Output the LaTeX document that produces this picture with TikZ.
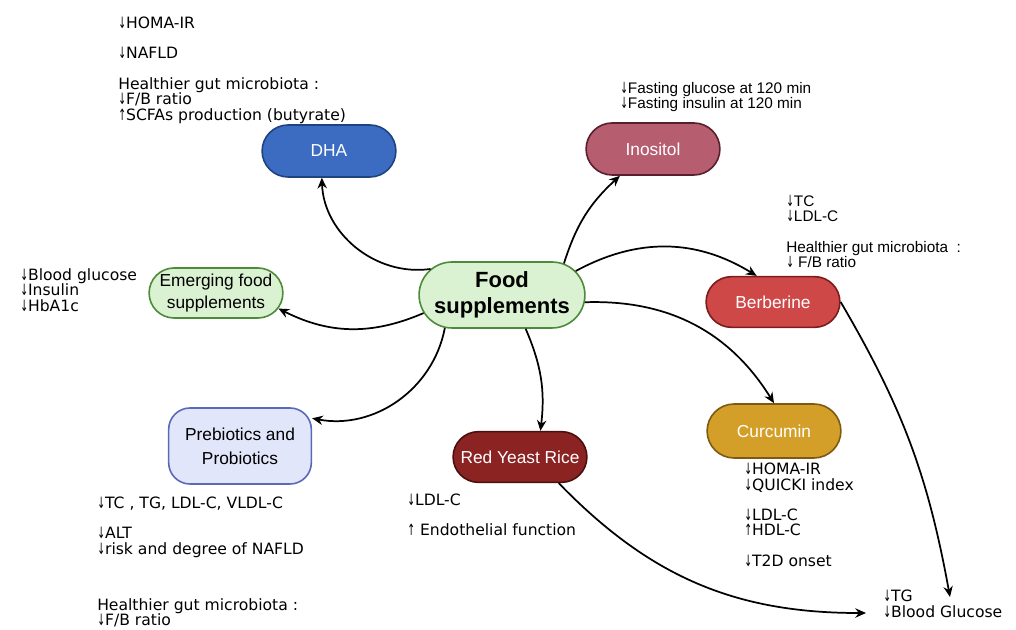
\documentclass[tikz,border=0pt]{standalone}
\usepackage{fontspec}
\setmainfont{DejaVu Sans}
\newfontfamily\labelfont{Liberation Sans}
\newfontfamily\arrowfont{DejaVu Sans}
\usetikzlibrary{arrows.meta, positioning, shapes.misc}
\definecolor{dhablue}{HTML}{3B6CC2}
\definecolor{dhaline}{HTML}{1E437E}
\definecolor{inorose}{HTML}{B65E70}
\definecolor{inoline}{HTML}{5A1F2E}
\definecolor{berred}{HTML}{CF4848}
\definecolor{berline}{HTML}{7C1C1C}
\definecolor{ryrred}{HTML}{8C2323}
\definecolor{ryrline}{HTML}{4A0F0F}
\definecolor{curgold}{HTML}{D49F28}
\definecolor{curline}{HTML}{7D5A12}
\definecolor{hubgreen}{HTML}{DAF1D2}
\definecolor{hubline}{HTML}{4C8B3A}
\definecolor{probfill}{HTML}{E2E6FA}
\definecolor{probline}{HTML}{5A6AB8}
\newcommand{\decr}{\scalebox{0.6}[1]{\arrowfont ↓}}
\newcommand{\incr}{\scalebox{0.6}[1]{\arrowfont ↑}}

\begin{document}
\begin{tikzpicture}[x=0.75pt, y=0.75pt]
    \tikzstyle{pill} = [rounded rectangle, minimum width=107pt, minimum height=39pt, align=center, line width=1.2pt, text=white, font=\labelfont\fontsize{13}{16.5}\selectfont]
    \tikzstyle{hub} = [rounded rectangle, minimum width=131pt, minimum height=49.5pt, align=center, draw=hubline, fill=hubgreen, line width=1.2pt, font=\labelfont\bfseries\fontsize{16.5}{19.5}\selectfont]
    \tikzstyle{note} = [inner sep=0pt, anchor=north west, align=left, font=\fontsize{11.7}{11.6}\selectfont]
    \tikzstyle{arrow} = [line width=1.3pt, -{Stealth[length=8pt, width=7pt]}]
    \useasboundingbox (0,0) rectangle (1016,630);

    \node[hub] (hub) at (502,335) {Food\\supplements};
    \node[pill, draw=dhaline, fill=dhablue] (dha) at (329,479) {DHA};
    \node[pill, draw=inoline, fill=inorose] (inositol) at (653,481) {Inositol};
    \node[pill, draw=hubline, fill=hubgreen, text=black, minimum height=37.5pt] (emerging) at (216,337) {Emerging food\\supplements};
    \node[pill, draw=berline, fill=berred, minimum height=38pt] (berberine) at (773,328) {Berberine};
    \node[pill, rectangle, rounded corners=16pt, minimum height=57pt, draw=probline, fill=probfill, text=black, font=\labelfont\fontsize{13}{18}\selectfont] (prebio) at (240,184) {Prebiotics and\\Probiotics};
    \node[pill, draw=ryrline, fill=ryrred, minimum height=38pt] (redyeast) at (520,173) {Red Yeast Rice};
    \node[pill, draw=curline, fill=curgold, minimum height=40.5pt] (curcumin) at (774,199) {Curcumin};

    % effects listed next to each supplement
    \node[note] (dhanote) at (118,613) {\decr HOMA-IR\\[11pt]\decr NAFLD\\[11pt]Healthier gut microbiota :\\\decr F/B ratio\\\incr SCFAs production (butyrate)};
    \node[note, font=\labelfont\fontsize{11.5}{11.3}\selectfont] (inonote) at (620,548) {\decr Fasting glucose at 120 min\\\decr Fasting insulin at 120 min};
    \node[note] (emergingnote) at (20,362) {\decr Blood glucose\\\decr Insulin\\\decr HbA1c};
    \node[note, font=\labelfont\fontsize{11.5}{11.3}\selectfont] (bernote) at (786,435) {\decr TC\\\decr LDL-C\\[12pt]Healthier gut microbiota \ :\\\decr{} F/B ratio};
    \node[note] (prebionote) at (97,133) {\decr TC , TG, LDL-C, VLDL-C\\[11pt]\decr ALT\\\decr risk and degree of NAFLD};
    \node[note] (gutnote) at (97,32) {Healthier gut microbiota :\\\decr F/B ratio};
    \node[note] (ryrnote) at (407,136) {\decr LDL-C\\[11pt]\incr{} Endothelial function};
    \node[note] (curnote) at (744,167) {\decr HOMA-IR\\\decr QUICKI index\\[11pt]\decr LDL-C\\\incr HDL-C\\[11pt]\decr T2D onset};
    \node[note] (glucosenote) at (883,40) {\decr TG\\\decr Blood Glucose};
    \coordinate (tgin) at (866,17);
    \coordinate (glucosein) at (950,33);

    \draw[arrow] (hub.160) to[bend left=48] (dha.-105);
    \draw[arrow] (hub.27) to[bend left=15] (inositol.-141);
    \draw[arrow] (hub.18) to[bend left=30] (berberine.122);
    \draw[arrow] (hub.193) to[bend left=25] (emerging.-14);
    \draw[arrow] (hub.210) to[bend left=45] (prebio.21);
    \draw[arrow] (hub.-55) to[bend left=15] (redyeast.52);
    \draw[arrow] (hub.-5) to[bend left=30] (curcumin.north);
    \draw[arrow] (berberine.east) to[bend left=10] (glucosein);
    \draw[arrow] (redyeast.-34) to[bend right=23] (tgin);
\end{tikzpicture}
\end{document}
